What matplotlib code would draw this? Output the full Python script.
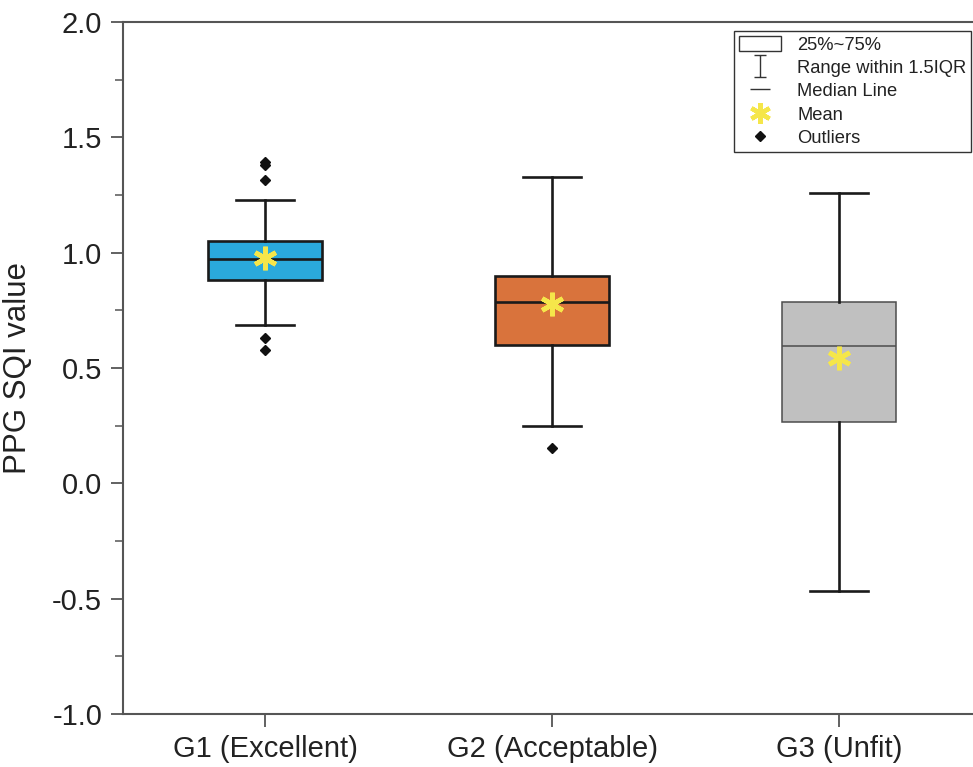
import matplotlib
matplotlib.use("Agg")
import matplotlib.pyplot as plt
from matplotlib.patches import Patch
from matplotlib.lines import Line2D
from matplotlib.path import Path
from matplotlib.ticker import MultipleLocator

plt.rcParams['font.family'] = ['Liberation Sans', 'DejaVu Sans']

# Summary statistics per quality group
groups = ['G1 (Excellent)', 'G2 (Acceptable)', 'G3 (Unfit)']
q1 = [0.880, 0.600, 0.265]
medians = [0.973, 0.787, 0.597]
q3 = [1.052, 0.899, 0.787]
whisker_low = [0.688, 0.250, -0.467]
whisker_high = [1.228, 1.329, 1.257]
means = [0.977, 0.777, 0.542]
outliers = [[1.394, 1.380, 1.315, 0.629, 0.578], [0.152], []]

face_colors = ['#2aa9dc', '#d9733c', '#c0c0c0']
edge_colors = ['#1a1a1a', '#1a1a1a', '#4d4d4d']
edge_widths = [1.9, 1.9, 1.1]
mean_color = '#f5e64a'
axis_color = '#555555'
text_color = '#222222'

stats = []
for i, name in enumerate(groups):
    stats.append(dict(label=name, q1=q1[i], med=medians[i], q3=q3[i],
                      whislo=whisker_low[i], whishi=whisker_high[i],
                      mean=means[i], fliers=outliers[i]))

fig = plt.figure(figsize=(9.73, 7.67), dpi=100)
ax = fig.add_axes([123 / 973, 53 / 767, 850 / 973, 692 / 767])

positions = [1, 2, 3]
star = (6, 2, 0)
bp = ax.bxp(stats, positions=positions, widths=0.4, capwidths=0.2,
            patch_artist=True, showmeans=True, showfliers=True,
            whiskerprops=dict(color='#1a1a1a', linewidth=1.9),
            capprops=dict(color='#1a1a1a', linewidth=1.9),
            flierprops=dict(marker='D', markerfacecolor='#111111',
                            markeredgecolor='#111111', markersize=5.5,
                            linestyle='none'),
            meanprops=dict(marker=star, markeredgecolor=mean_color,
                           markerfacecolor=mean_color, markersize=17,
                           markeredgewidth=3.4, linestyle='none'),
            medianprops=dict(color='#1a1a1a', linewidth=1.9))

for i, box in enumerate(bp['boxes']):
    box.set_facecolor(face_colors[i])
    box.set_edgecolor(edge_colors[i])
    box.set_linewidth(edge_widths[i])
    bp['medians'][i].set_color(edge_colors[i])
    bp['medians'][i].set_linewidth(edge_widths[i])
for m in bp['means']:
    m.set_zorder(5)

ax.set_xlim(0.505, 3.467)
ax.set_ylim(-1.0, 2.0)
ax.set_xticks(positions)
ax.set_xticklabels(groups)
ax.yaxis.set_major_locator(MultipleLocator(0.5))
ax.yaxis.set_minor_locator(MultipleLocator(0.25))
ax.set_yticklabels([f'{v:.1f}' for v in ax.get_yticks()])

for side in ['left', 'top', 'bottom']:
    ax.spines[side].set_color(axis_color)
    ax.spines[side].set_linewidth(1.5)
ax.spines['right'].set_visible(False)

ax.tick_params(axis='both', which='major', direction='out', length=9,
               width=1.3, color=axis_color, labelsize=21,
               labelcolor=text_color, pad=6)
ax.tick_params(axis='y', which='minor', direction='out', length=6,
               width=1.1, color=axis_color)
ax.tick_params(axis='x', which='minor', bottom=False)

ax.set_ylabel('PPG SQI value', fontsize=22.5, color=text_color, labelpad=14)

# Legend describing the box plot elements
ibeam = Path([(-0.5, 1), (0.5, 1), (0, 1), (0, -1), (-0.5, -1), (0.5, -1)],
             [Path.MOVETO, Path.LINETO, Path.MOVETO, Path.LINETO,
              Path.MOVETO, Path.LINETO])
handles = [
    Patch(facecolor='white', edgecolor='#333333', linewidth=1.0),
    Line2D([], [], linestyle='none', marker=ibeam, markersize=16,
           markeredgewidth=1.0, color='#333333'),
    Line2D([], [], linestyle='none', marker='_', markersize=14,
           markeredgewidth=1.0, color='#333333'),
    Line2D([], [], linestyle='none', marker=star, markersize=15,
           markeredgewidth=3.2, color=mean_color),
    Line2D([], [], linestyle='none', marker='D', markersize=5,
           color='#111111'),
]
labels = ['25%~75%', 'Range within 1.5IQR', 'Median Line', 'Mean', 'Outliers']
leg = fig.legend(handles, labels, loc='upper right',
                 bbox_to_anchor=(971 / 973, 1 - 31 / 767),
                 fontsize=13.2, frameon=True, fancybox=False,
                 edgecolor='#333333', framealpha=1.0,
                 handlelength=2.3, handleheight=0.95, handletextpad=0.9,
                 labelspacing=0.28, borderpad=0.25, borderaxespad=0)
leg.get_frame().set_linewidth(1.0)
for t in leg.get_texts():
    t.set_color(text_color)

fig.savefig('out.png', dpi=100)
